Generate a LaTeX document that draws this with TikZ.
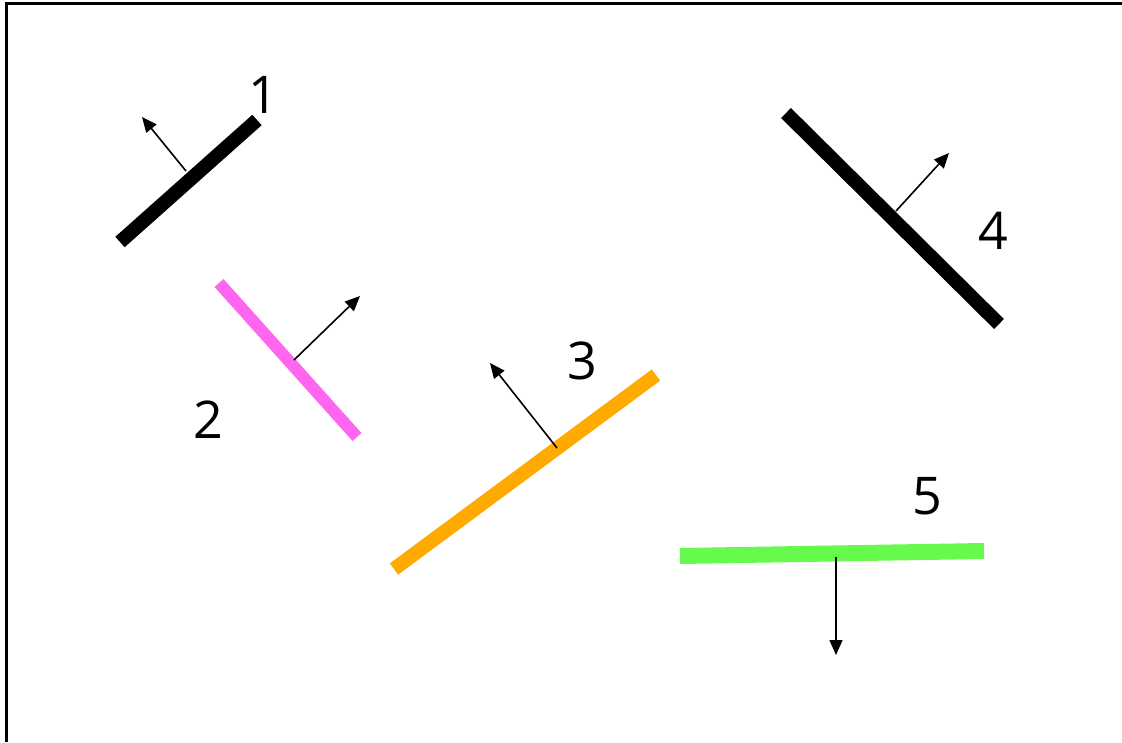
\documentclass[tikz,border=0pt]{standalone}
\usepackage{fontspec}
\setmainfont{Open Sans}
\usetikzlibrary{arrows.meta}
\definecolor{pinkc}{RGB}{255,102,240}
\definecolor{orangec}{RGB}{255,170,0}
\definecolor{greenc}{RGB}{102,250,77}
\tikzset{
  bar/.style={line width=14pt, line cap=butt},
  normal/.style={line width=1.6pt, -{Triangle[length=15pt,width=13pt]}},
  lbl/.style={inner sep=0pt, font=\fontsize{52}{52}\selectfont}
}
\begin{document}
\begin{tikzpicture}[x=1pt,y=-1pt]
\useasboundingbox (0,0) rectangle (1122,742);
% frame
\coordinate (fa) at (6.5,742);
\coordinate (fb) at (6.5,3.5);
\coordinate (fc) at (1122,3.5);
\draw[line width=2.6pt] (fa) -- (fb) -- (fc);
% bar 1
\coordinate (a1) at (120,242);
\coordinate (b1) at (257,120);
\coordinate (m1) at (186,171);
\coordinate (t1) at (142,117);
\draw[bar, black] (a1) -- (b1);
\draw[normal] (m1) -- (t1);
\node[lbl] (l1) at (263,95) {1};
% bar 2
\coordinate (a2) at (219,283);
\coordinate (b2) at (357,437);
\coordinate (m2) at (294,360);
\coordinate (t2) at (360,296);
\draw[bar, pinkc, line width=12pt] (a2) -- (b2);
\draw[normal] (m2) -- (t2);
\node[lbl] (l2) at (208,420) {2};
% bar 3
\coordinate (a3) at (394,569);
\coordinate (b3) at (656,375);
\coordinate (m3) at (557,448);
\coordinate (t3) at (490,363);
\draw[bar, orangec] (a3) -- (b3);
\draw[normal] (m3) -- (t3);
\node[lbl] (l3) at (582,361) {3};
% bar 4
\coordinate (a4) at (786,113);
\coordinate (b4) at (999,324);
\coordinate (m4) at (896,211);
\coordinate (t4) at (949,153);
\draw[bar, black] (a4) -- (b4);
\draw[normal] (m4) -- (t4);
\node[lbl] (l4) at (993,231) {4};
% bar 5
\coordinate (a5) at (680,556);
\coordinate (b5) at (984,551);
\coordinate (m5) at (836,557);
\coordinate (t5) at (836,655);
\draw[bar, greenc, line width=16pt] (a5) -- (b5);
\draw[normal] (m5) -- (t5);
\node[lbl] (l5) at (927,496) {5};
\end{tikzpicture}
\end{document}
